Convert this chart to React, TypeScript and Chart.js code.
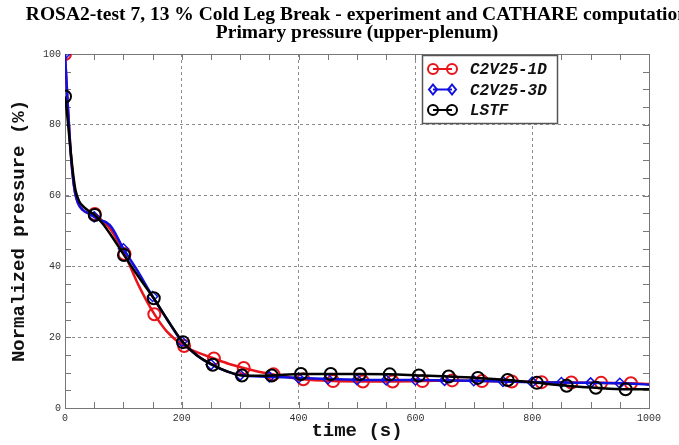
import React, { useEffect, useRef } from "react";
import { Chart, registerables } from "chart.js";

Chart.register(...registerables);

const TITLE_LINES = [
  "ROSA2-test 7, 13 % Cold Leg Break - experiment and CATHARE computation",
  "Primary pressure (upper-plenum)",
];
const X_LABEL = "time (s)";
const Y_LABEL = "Normalized pressure (%)";
const SERIES_NAMES = ["C2V25-1D", "C2V25-3D", "LSTF"];

// C2V25-1D (red)
const redTime = [0, 2, 5, 9, 13, 17, 22, 30, 40, 51, 60, 70, 80, 102, 125, 153, 175, 204, 230, 255, 280, 306, 330, 357, 408, 459, 510, 561, 612, 663, 714, 765, 816, 867, 918, 969, 1000];
const redValue = [100, 94, 85, 74, 66, 61, 58, 56, 55, 54.8, 53.5, 52, 50, 43.5, 35, 26.5, 21.5, 17.5, 15.5, 14, 12.5, 11.3, 10.3, 9.5, 8.1, 7.6, 7.5, 7.5, 7.6, 7.8, 7.6, 7.5, 7.3, 7.2, 7.1, 7.0, 6.8];
const redMarks = [0, 51, 102, 153, 204, 255, 306, 357, 408, 459, 510, 561, 612, 663, 714, 765, 816, 867, 918, 969];

// C2V25-3D (blue)
const blueTime = [0, 2, 5, 9, 13, 17, 22, 30, 40, 50, 60, 70, 80, 100, 125, 150, 175, 200, 225, 250, 275, 300, 350, 400, 450, 500, 550, 600, 650, 700, 750, 800, 850, 900, 950, 1000];
const blueValue = [100, 94, 85, 74, 66, 61, 58, 56, 55, 54, 53, 52.5, 51, 45, 38.5, 31.5, 25, 18.8, 15, 12.3, 10.5, 9.3, 8.8, 8.5, 8.2, 8.0, 7.9, 7.9, 7.8, 7.7, 7.5, 7.3, 7.2, 7.1, 7.0, 6.6];
const blueMarks = [0, 50, 100, 150, 200, 250, 300, 350, 400, 450, 500, 550, 600, 650, 700, 750, 800, 850, 900, 950];

// LSTF (black)
const blackTime = [0, 3, 6, 10, 14, 18, 24, 32, 42, 51, 65, 80, 101, 125, 152, 175, 202, 225, 253, 278, 303, 330, 354, 404, 455, 505, 556, 606, 657, 707, 758, 808, 859, 909, 960, 1000];
const blackValue = [88, 84, 79, 72, 66, 61.5, 58.5, 56.8, 55.5, 54.5, 52, 48.5, 43.2, 37.3, 31, 25, 18.6, 15, 12.2, 10.3, 9.2, 9.1, 9.2, 9.6, 9.6, 9.6, 9.5, 9.2, 8.9, 8.5, 7.9, 7.1, 6.3, 5.7, 5.3, 5.3];
const blackMarks = [0, 51, 101, 152, 202, 253, 303, 354, 404, 455, 505, 556, 606, 657, 707, 758, 808, 859, 909, 960];

const X_MIN = 0, X_MAX = 1000, X_STEP = 200, X_MINOR = 50;
const Y_MIN = 0, Y_MAX = 100, Y_STEP = 20, Y_MINOR = 5;

const RED = "#e8141b";
const BLUE = "#1010e0";
const BLACK = "#000000";
const MONO = "'Liberation Mono', 'DejaVu Sans Mono', monospace";
const SERIF = "'Liberation Serif', 'Times New Roman', serif";

const pts = (t: number[], v: number[]) => t.map((x, i) => ({ x, y: v[i] }));

const framePlugin = {
  id: "frame",
  beforeDatasetsDraw(chart: any) {
    const { ctx, chartArea: a, scales } = chart;
    const xs = scales.x, ys = scales.y;
    ctx.save();
    ctx.strokeStyle = "#777";
    ctx.lineWidth = 1;
    ctx.beginPath();
    for (let v = X_MIN; v <= X_MAX; v += X_MINOR) {
      const px = Math.round(xs.getPixelForValue(v)) + 0.5;
      ctx.moveTo(px, a.bottom);
      ctx.lineTo(px, a.bottom - 6);
      ctx.moveTo(px, a.top);
      ctx.lineTo(px, a.top + 6);
    }
    for (let v = Y_MIN; v <= Y_MAX; v += Y_MINOR) {
      const py = Math.round(ys.getPixelForValue(v)) + 0.5;
      ctx.moveTo(a.left, py);
      ctx.lineTo(a.left + 6, py);
      ctx.moveTo(a.right, py);
      ctx.lineTo(a.right - 6, py);
    }
    ctx.stroke();
    ctx.beginPath();
    ctx.rect(Math.round(a.left) + 0.5, Math.round(a.top) + 0.5, Math.round(a.right - a.left), Math.round(a.bottom - a.top));
    ctx.stroke();
    ctx.restore();
  },
  afterDraw(chart: any) {
    const { ctx, chartArea: a } = chart;
    ctx.save();
    // title
    ctx.fillStyle = "#000";
    ctx.font = `bold 19.5px ${SERIF}`;
    ctx.textAlign = "center";
    ctx.textBaseline = "middle";
    const cx = (a.left + a.right) / 2;
    ctx.fillText(TITLE_LINES[0], cx, 15);
    ctx.fillText(TITLE_LINES[1], cx, 33);
    // legend
    const bx = a.right - 227, by = a.top + 1, bw = 135, bh = 68;
    ctx.fillStyle = "#fff";
    ctx.fillRect(bx, by, bw, bh);
    ctx.strokeStyle = "#555";
    ctx.lineWidth = 1.5;
    ctx.strokeRect(bx + 0.5, by + 0.5, bw, bh);
    const colors = [RED, BLUE, BLACK];
    const styles = ["circle", "diamond", "circle"];
    ctx.font = `italic bold 16px ${MONO}`;
    ctx.textAlign = "left";
    for (let i = 0; i < 3; i++) {
      const y = by + 14 + i * 20.5;
      const x1 = bx + 11, x2 = bx + 30;
      ctx.strokeStyle = colors[i];
      ctx.lineWidth = 2;
      ctx.beginPath();
      ctx.moveTo(x1, y);
      ctx.lineTo(x2, y);
      ctx.stroke();
      for (const x of [x1, x2]) {
        ctx.beginPath();
        if (styles[i] === "circle") {
          ctx.arc(x, y, 5, 0, Math.PI * 2);
        } else {
          ctx.moveTo(x, y - 5);
          ctx.lineTo(x + 4, y);
          ctx.lineTo(x, y + 5);
          ctx.lineTo(x - 4, y);
          ctx.closePath();
        }
        ctx.stroke();
      }
      ctx.fillStyle = "#111";
      ctx.fillText(SERIES_NAMES[i], bx + 48, y + 1);
    }
    ctx.restore();
  },
};

const markRadius = (marks: number[], r: number) => (c: any) =>
  c.raw && marks.includes(c.raw.x) ? r : 0;

export default function App() {
  const ref = useRef<HTMLCanvasElement>(null);
  useEffect(() => {
    if (!ref.current) return;
    const tickFont = { family: MONO, size: 10 };
    const gridColor = (edgeA: number, edgeB: number) => (c: any) =>
      c.tick && (c.tick.value === edgeA || c.tick.value === edgeB) ? "rgba(0,0,0,0)" : "#8c8c8c";
    const chart = new Chart(ref.current, {
      type: "line",
      data: {
        datasets: [
          {
            label: SERIES_NAMES[2],
            data: pts(blackTime, blackValue),
            borderColor: BLACK,
            borderWidth: 2.5,
            pointRadius: markRadius(blackMarks, 6),
            pointStyle: "circle",
            pointBorderColor: BLACK,
            pointBackgroundColor: "rgba(0,0,0,0)",
            pointBorderWidth: 2,
            cubicInterpolationMode: "monotone",
            order: 0,
          },
          {
            label: SERIES_NAMES[1],
            data: pts(blueTime, blueValue),
            borderColor: BLUE,
            borderWidth: 2.5,
            pointRadius: markRadius(blueMarks, 5),
            pointStyle: "rectRot",
            pointBorderColor: BLUE,
            pointBackgroundColor: "rgba(0,0,0,0)",
            pointBorderWidth: 1.5,
            cubicInterpolationMode: "monotone",
            order: 1,
          },
          {
            label: SERIES_NAMES[0],
            data: pts(redTime, redValue),
            borderColor: RED,
            borderWidth: 2.5,
            pointRadius: markRadius(redMarks, 6),
            pointStyle: "circle",
            pointBorderColor: RED,
            pointBackgroundColor: "rgba(0,0,0,0)",
            pointBorderWidth: 2,
            cubicInterpolationMode: "monotone",
            order: 2,
          },
        ],
      },
      options: {
        responsive: false,
        animation: false,
        layout: { padding: { top: 54, right: 30, left: 0, bottom: 0 } },
        plugins: { legend: { display: false }, title: { display: false }, tooltip: { enabled: false } },
        scales: {
          x: {
            type: "linear",
            min: X_MIN,
            max: X_MAX,
            ticks: { stepSize: X_STEP, font: tickFont, color: "#333", padding: 4, maxRotation: 0, callback: (v: any) => String(v) },
            grid: { color: gridColor(X_MIN, X_MAX), drawTicks: false, lineWidth: 1 },
            border: { color: "#777", dash: [3, 3] },
            title: { display: true, text: X_LABEL, color: "#111", font: { family: MONO, size: 19, weight: "bold" }, padding: { top: 0, bottom: 2 } },
            afterFit: (s: any) => { s.height = 37; },
          },
          y: {
            type: "linear",
            min: Y_MIN,
            max: Y_MAX,
            ticks: { stepSize: Y_STEP, font: tickFont, color: "#333", padding: 4, callback: (v: any) => String(v) },
            grid: { color: gridColor(Y_MIN, Y_MAX), drawTicks: false, lineWidth: 1 },
            border: { color: "#777", dash: [3, 3] },
            title: { display: true, text: Y_LABEL, color: "#111", font: { family: MONO, size: 19, weight: "bold" }, padding: { top: 8, bottom: 0 } },
            afterFit: (s: any) => { s.width = 65; },
          },
        },
      } as any,
      plugins: [framePlugin],
    });
    return () => chart.destroy();
  }, []);
  return (
    <div style={{ position: "fixed", left: 0, top: 0, width: 679, height: 445, background: "#fff" }}>
      <canvas ref={ref} width={679} height={445} />
    </div>
  );
}
